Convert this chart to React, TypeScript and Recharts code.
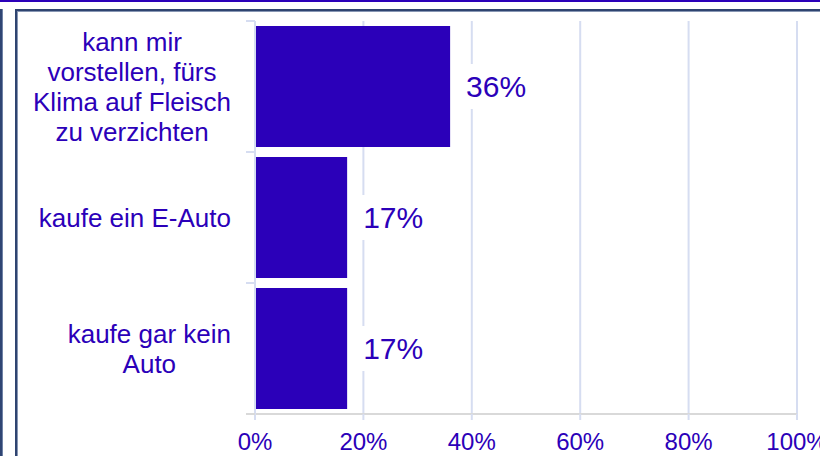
import React from "react";
import { BarChart, Bar, XAxis, YAxis, CartesianGrid, LabelList } from "recharts";

const categories = [
  "kann mir\nvorstellen, fürs\nKlima auf Fleisch\nzu verzichten",
  "kaufe ein E-Auto",
  "kaufe gar kein\nAuto",
];
const values = [36, 17, 17];
const xTicks = [0, 20, 40, 60, 80, 100];

const data = categories.map((c, i) => ({ name: c, value: values[i] }));

const INK = "#2b00b9";
const GRID = "#d6ddf1";
const AXIS_GRAY = "#d9d9d9";
const FONT = '"Liberation Sans", Arial, sans-serif';
const CAT_SIZE = 26;
const LINE_H = 30;
const VAL_SIZE = 30;
const Y_MARGIN = 24;

let ctx: CanvasRenderingContext2D | null = null;
function measure(text: string, size: number): number {
  if (!ctx) {
    const c = document.createElement("canvas");
    ctx = c.getContext("2d");
  }
  if (!ctx) return text.length * size * 0.5;
  ctx.font = `${size}px "Liberation Sans", Arial, sans-serif`;
  return ctx.measureText(text).width;
}

const YTick = (props: any) => {
  const { x, y, payload, index, visibleTicksCount, height } = props;
  const half =
    payload && typeof payload.offset === "number" && payload.offset > 0
      ? payload.offset
      : height / (2 * visibleTicksCount);
  const axisX = x + Y_MARGIN;
  const lines = String(payload.value).split("\n");
  const w = Math.max(...lines.map((l) => measure(l, CAT_SIZE)));
  const cx = x - w / 2;
  const first = y - ((lines.length - 1) * LINE_H) / 2;
  return (
    <g>
      <line x1={axisX - 9} x2={axisX} y1={y - half} y2={y - half} stroke={GRID} strokeWidth={2} />
      {index === visibleTicksCount - 1 && (
        <line x1={axisX - 9} x2={axisX} y1={y + half} y2={y + half} stroke={AXIS_GRAY} strokeWidth={2} />
      )}
      <text x={cx} textAnchor="middle" fontSize={CAT_SIZE} fill={INK} fontFamily={FONT}>
        {lines.map((l, i) => (
          <tspan key={i} x={cx} y={first + i * LINE_H} dy="0.358em">
            {l}
          </tspan>
        ))}
      </text>
    </g>
  );
};

const ValueLabel = (props: any) => {
  const vb = props.viewBox || {};
  const x = props.x ?? vb.x;
  const y = props.y ?? vb.y;
  const width = props.width ?? vb.width;
  const height = props.height ?? vb.height;
  const txt = `${props.value}%`;
  const tw = measure(txt, VAL_SIZE);
  const tx = x + width + 16;
  const cy = y + height / 2;
  return (
    <g>
      <rect x={tx - 5} y={cy - 22.5} width={tw + 10} height={45} fill="#ffffff" />
      <text x={tx} y={cy} dy="0.358em" fontSize={VAL_SIZE} fill={INK} fontFamily={FONT}>
        {txt}
      </text>
    </g>
  );
};

export default function App() {
  return (
    <div
      style={{
        position: "absolute",
        left: 0,
        top: 0,
        width: 820,
        height: 456,
        overflow: "hidden",
        background: "#ffffff",
        fontFamily: FONT,
      }}
    >
      <div style={{ position: "absolute", left: 0, top: 0, width: 820, height: 2, background: INK }} />
      <div
        style={{
          position: "absolute",
          left: 0,
          top: 9,
          width: 3,
          height: 500,
          background: "#2f4573",
          boxShadow: "inset -1px 0 0 #6f82a6",
        }}
      />
      <div
        style={{
          position: "absolute",
          left: 15,
          top: 9,
          width: 900,
          height: 600,
          borderLeft: "2px solid #2f4470",
          borderTop: "2px solid #2f4470",
          boxShadow: "inset 1px 1px 0 #8796b3",
          background: "#ffffff",
        }}
      />
      <div style={{ position: "absolute", left: 0, top: 0 }}>
        <BarChart
          width={820}
          height={456}
          data={data}
          layout="vertical"
          margin={{ top: 21, right: 23, bottom: 0, left: 0 }}
          barCategoryGap={5}
        >
          <CartesianGrid horizontal={false} vertical={true} stroke={GRID} strokeWidth={2} />
          <XAxis
            type="number"
            domain={[0, 100]}
            ticks={xTicks}
            interval={0}
            height={42}
            tickFormatter={(v: number) => `${v}%`}
            axisLine={{ stroke: AXIS_GRAY, strokeWidth: 2 }}
            tickLine={{ stroke: GRID, strokeWidth: 2 }}
            tickSize={6}
            tickMargin={13}
            tick={{ fill: INK, fontSize: 24, fontFamily: FONT }}
          />
          <YAxis
            type="category"
            dataKey="name"
            width={255}
            interval={0}
            tickLine={false}
            tickSize={0}
            tickMargin={Y_MARGIN}
            axisLine={{ stroke: GRID, strokeWidth: 2 }}
            tick={<YTick />}
          />
          <Bar dataKey="value" fill={INK} isAnimationActive={false}>
            <LabelList dataKey="value" content={(p: any) => <ValueLabel {...p} />} />
          </Bar>
        </BarChart>
      </div>
    </div>
  );
}
